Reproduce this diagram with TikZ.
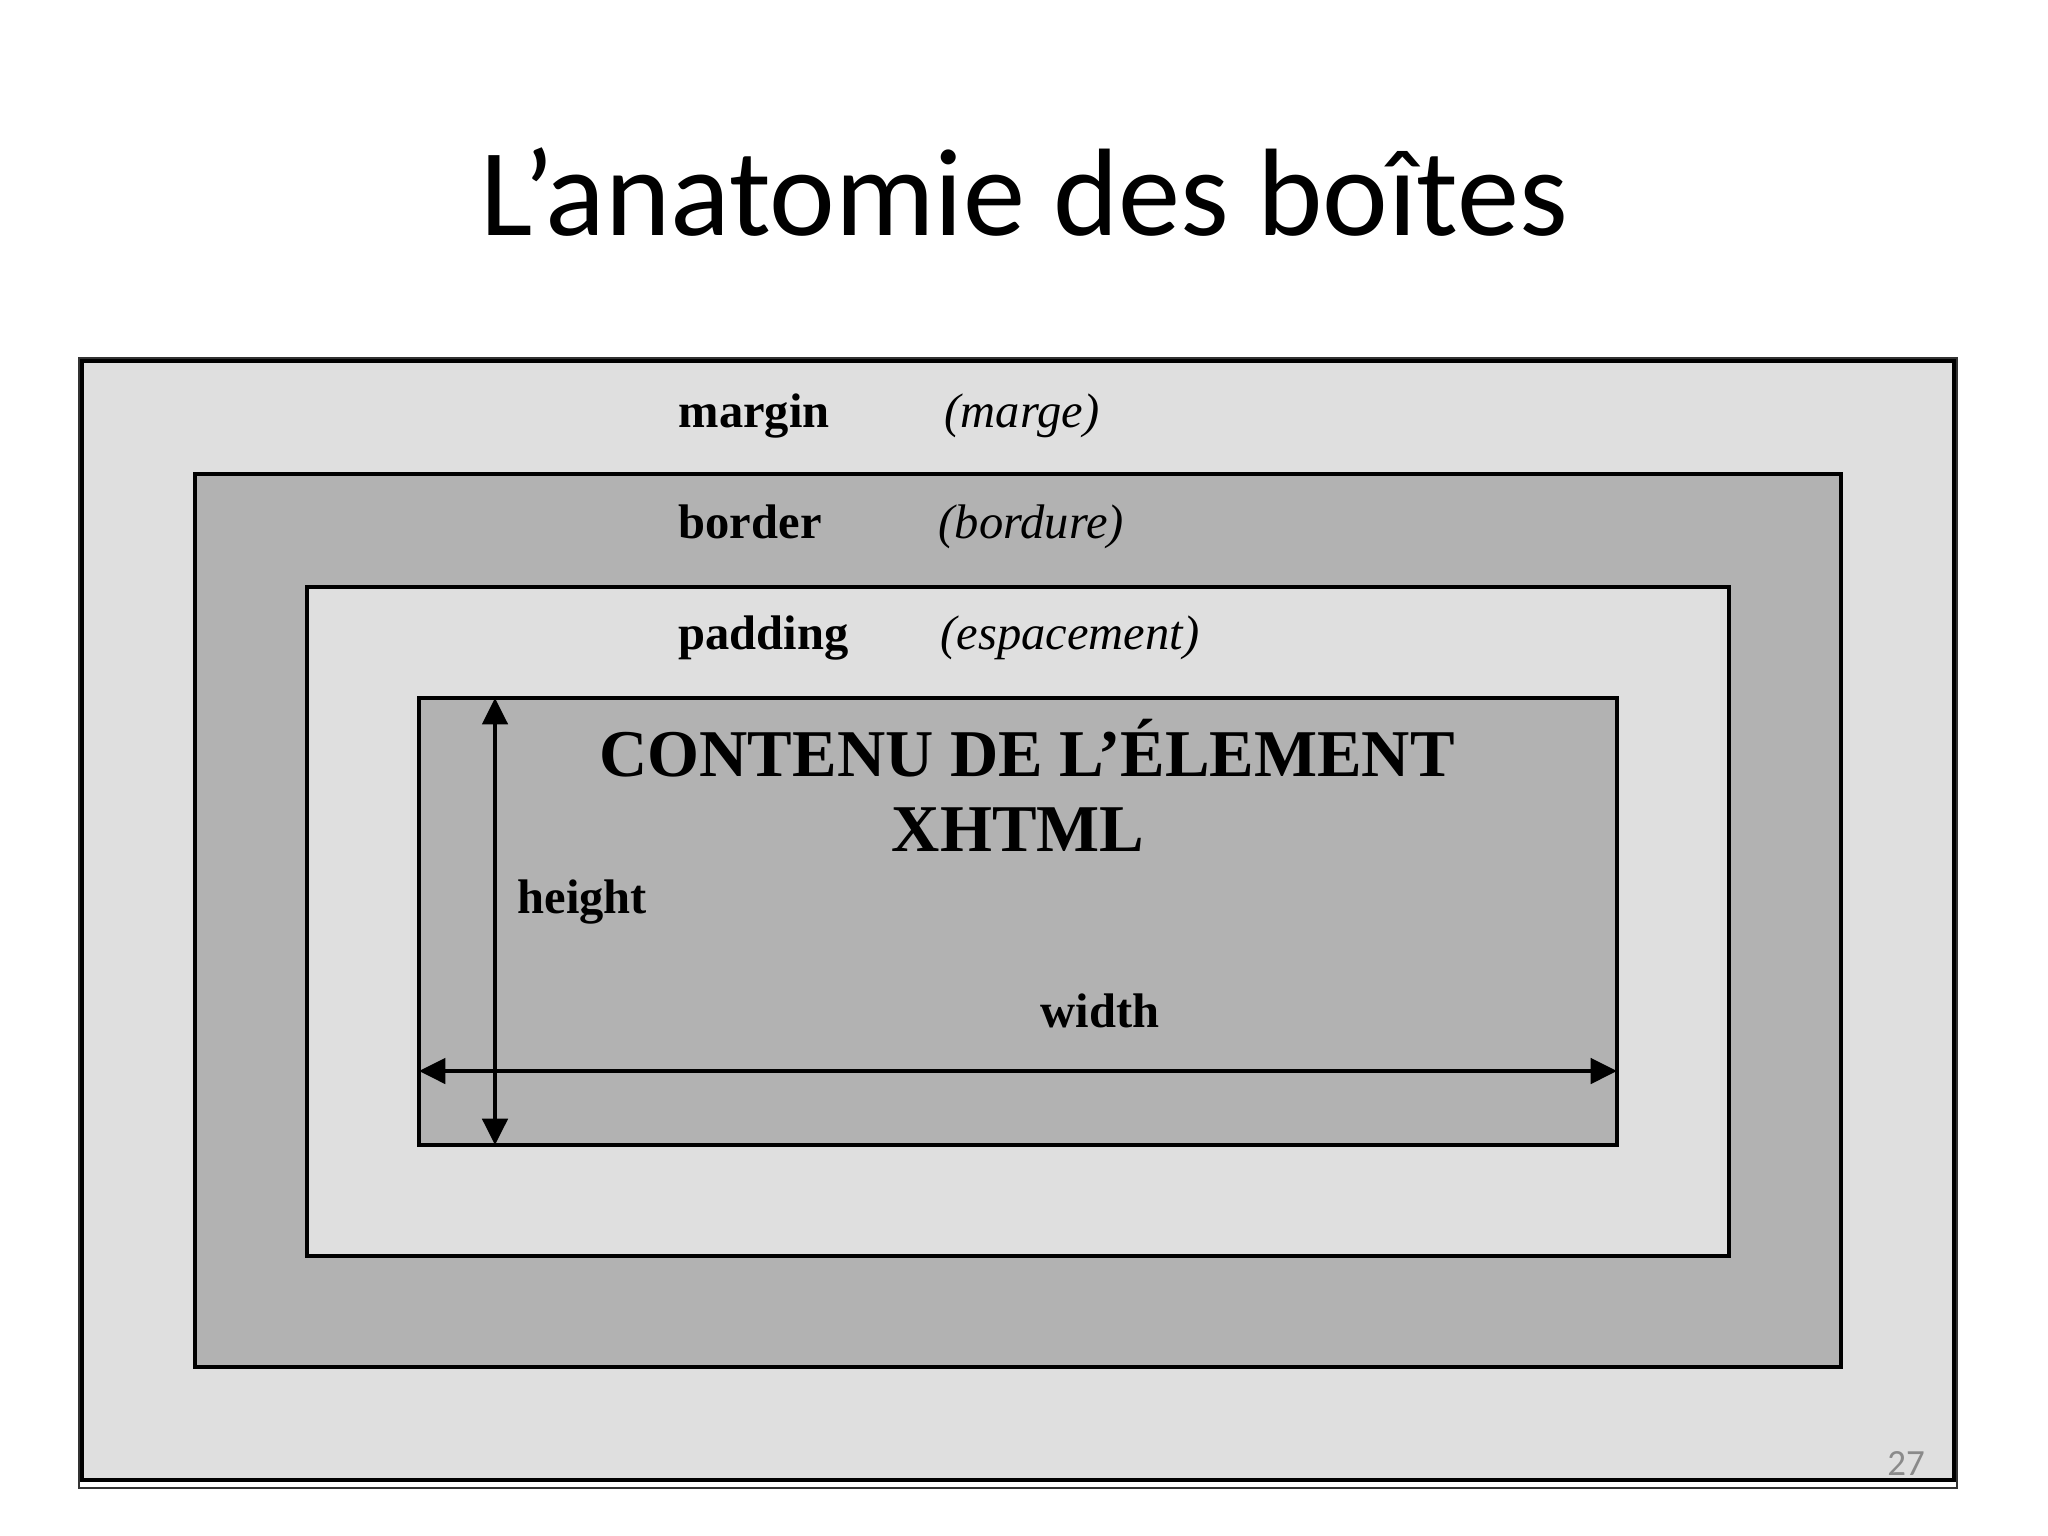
\documentclass[tikz,border=0pt]{standalone}
\usepackage{fontspec}
\setmainfont{Liberation Serif}
\newfontfamily\titlefont{Carlito}
\usetikzlibrary{arrows.meta}
\definecolor{litegray}{HTML}{DFDFDF}
\definecolor{midgray}{HTML}{B2B2B2}
\definecolor{numgray}{HTML}{8A8A8A}
\tikzset{
  boxlayer/.style={draw=black, line width=0.95pt},
  termlabel/.style={anchor=base west, inner sep=0pt, font=\fontsize{13.8}{16}\selectfont\bfseries},
  frlabel/.style={anchor=base west, inner sep=0pt, font=\fontsize{13.8}{16}\selectfont\itshape},
  dimarrow/.style={line width=1.1pt, {Triangle[length=7.5pt,width=7.2pt]}-{Triangle[length=7.5pt,width=7.2pt]}}
}
\begin{document}
\begin{tikzpicture}[x=0.01cm, y=-0.01cm]
  \useasboundingbox (0,0) rectangle (2048,1536);
  % title
  \node[anchor=base, inner sep=0pt, font=\titlefont\fontsize{35.4}{40}\selectfont] (title) at (1024,235) {L’anatomie des boîtes};
  % nested boxes
  \draw[line width=0.4pt, draw=black!80] (79,358) rectangle (1957,1488);
  \draw[boxlayer, fill=litegray, line width=1.2pt] (82,361) rectangle (1954,1480);
  \draw[boxlayer, fill=midgray] (195,474) rectangle (1841,1367);
  \draw[boxlayer, fill=litegray] (307,587) rectangle (1729,1256);
  \draw[boxlayer, fill=midgray] (419,698) rectangle (1617,1145);
  % labels
  \node[termlabel] (margin) at (678,427) {margin};
  \node[frlabel] (marge) at (944,427) {(marge)};
  \node[termlabel] (border) at (678,538) {border};
  \node[frlabel] (bordure) at (938,538) {(bordure)};
  \node[termlabel] (padding) at (678,649) {padding};
  \node[frlabel] (espacement) at (940,649) {(espacement)};
  \node[anchor=base, inner sep=0pt, font=\fontsize{19}{22}\selectfont\bfseries] (contenu) at (1027,776) {CONTENU DE L’ÉLEMENT};
  \node[anchor=base, inner sep=0pt, font=\fontsize{19}{22}\selectfont\bfseries] (xhtml) at (1018,851) {XHTML};
  \node[termlabel] (height) at (517,913) {height};
  \node[termlabel] (width) at (1040,1027) {width};
  % dimension arrows
  \coordinate (htop) at (495,698);
  \coordinate (hbot) at (495,1145);
  \coordinate (wleft) at (419,1071);
  \coordinate (wright) at (1617,1071);
  \draw[dimarrow] (htop) -- (hbot);
  \draw[dimarrow] (wleft) -- (wright);
  % page number
  \node[anchor=base, inner sep=0pt, text=numgray, font=\titlefont\fontsize{10.5}{12}\selectfont] (pagenum) at (1906,1475) {27};
\end{tikzpicture}
\end{document}
